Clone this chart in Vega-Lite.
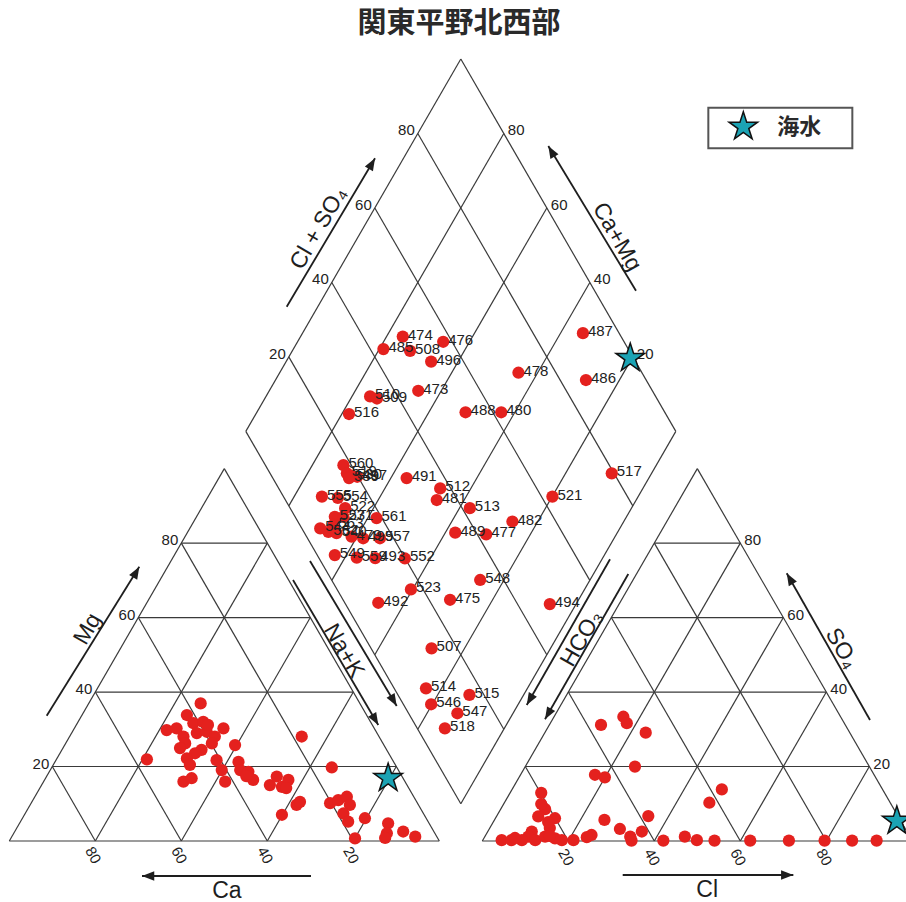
{
  "$schema": "https://vega.github.io/schema/vega-lite/v6.json",
  "width": 906,
  "height": 902,
  "autosize": {"type": "none"},
  "padding": 0,
  "background": "white",
  "config": {"view": {"stroke": null}},
  "datasets": {
    "grid": [
      {"x":0,"y":0,"x2":100,"y2":0},{"x":0,"y":0,"x2":50,"y2":86.6},{"x":100,"y":0,"x2":50,"y2":86.6},
      {"x":10,"y":17.32,"x2":90,"y2":17.32},{"x":20,"y":34.64,"x2":80,"y2":34.64},{"x":30,"y":51.96,"x2":70,"y2":51.96},{"x":40,"y":69.28,"x2":60,"y2":69.28},
      {"x":20,"y":0,"x2":60,"y2":69.28},{"x":40,"y":0,"x2":70,"y2":51.96},{"x":60,"y":0,"x2":80,"y2":34.64},{"x":80,"y":0,"x2":90,"y2":17.32},
      {"x":20,"y":0,"x2":10,"y2":17.32},{"x":40,"y":0,"x2":20,"y2":34.64},{"x":60,"y":0,"x2":30,"y2":51.96},{"x":80,"y":0,"x2":40,"y2":69.28},
      {"x":110,"y":0,"x2":210,"y2":0},{"x":110,"y":0,"x2":160,"y2":86.6},{"x":210,"y":0,"x2":160,"y2":86.6},
      {"x":120,"y":17.32,"x2":200,"y2":17.32},{"x":130,"y":34.64,"x2":190,"y2":34.64},{"x":140,"y":51.96,"x2":180,"y2":51.96},{"x":150,"y":69.28,"x2":170,"y2":69.28},
      {"x":130,"y":0,"x2":170,"y2":69.28},{"x":150,"y":0,"x2":180,"y2":51.96},{"x":170,"y":0,"x2":190,"y2":34.64},{"x":190,"y":0,"x2":200,"y2":17.32},
      {"x":130,"y":0,"x2":120,"y2":17.32},{"x":150,"y":0,"x2":130,"y2":34.64},{"x":170,"y":0,"x2":140,"y2":51.96},{"x":190,"y":0,"x2":150,"y2":69.28},
      {"x":105,"y":8.66,"x2":55,"y2":95.26},{"x":55,"y":95.26,"x2":105,"y2":181.86},{"x":105,"y":181.86,"x2":155,"y2":95.26},{"x":155,"y":95.26,"x2":105,"y2":8.66},
      {"x":115,"y":25.98,"x2":65,"y2":112.58},{"x":125,"y":43.3,"x2":75,"y2":129.9},{"x":135,"y":60.62,"x2":85,"y2":147.22},{"x":145,"y":77.94,"x2":95,"y2":164.54},
      {"x":95,"y":25.98,"x2":145,"y2":112.58},{"x":85,"y":43.3,"x2":135,"y2":129.9},{"x":75,"y":60.62,"x2":125,"y2":147.22},{"x":65,"y":77.94,"x2":115,"y2":164.54}
    ],
    "arrows": [
      {"axis":"Mg","x":8.70,"y":29.14,"x2":30.23,"y2":63.79,"dir":"ur"},
      {"axis":"Ca","x":70.16,"y":-8.14,"x2":30.86,"y2":-8.14,"dir":"l"},
      {"axis":"Na+K","x":65.98,"y":60.70,"x2":85.81,"y2":26.98,"dir":"dr"},
      {"axis":"Na+K","x":69.93,"y":65.12,"x2":90.09,"y2":31.40,"dir":"dr"},
      {"axis":"HCO3","x":139.70,"y":65.51,"x2":120.33,"y2":31.63,"dir":"dl"},
      {"axis":"HCO3","x":143.95,"y":62.09,"x2":124.58,"y2":28.30,"dir":"dl"},
      {"axis":"Cl","x":142.65,"y":-7.91,"x2":182.33,"y2":-7.91,"dir":"r"},
      {"axis":"SO4","x":200.16,"y":28.14,"x2":180.79,"y2":62.26,"dir":"ul"},
      {"axis":"Cl+SO4","x":64.51,"y":124.26,"x2":85.05,"y2":158.77,"dir":"ur"},
      {"axis":"Ca+Mg","x":145.74,"y":127.98,"x2":125.35,"y2":161.63,"dir":"ul"}
    ],
    "titles": [
      {"x":18.2,"y":49.3,"label":"Mg","rot":"up"},
      {"x":50.6,"y":-11.6,"label":"Ca","rot":"flat"},
      {"x":77.8,"y":44.2,"label":"Na+K","rot":"down"},
      {"x":133.1,"y":47.1,"label":"HCO₃","rot":"up"},
      {"x":162.3,"y":-11.4,"label":"Cl","rot":"flat"},
      {"x":193.6,"y":44.8,"label":"SO₄","rot":"down"},
      {"x":71.9,"y":142.5,"label":"Cl + SO₄","rot":"up"},
      {"x":141.3,"y":140.5,"label":"Ca+Mg","rot":"down"}
    ],
    "ticks": [
      {"x":10,"y":17.32,"label":"20","side":"left"},{"x":20,"y":34.64,"label":"40","side":"left"},{"x":30,"y":51.96,"label":"60","side":"left"},{"x":40,"y":69.28,"label":"80","side":"left"},
      {"x":65,"y":112.58,"label":"20","side":"left"},{"x":75,"y":129.9,"label":"40","side":"left"},{"x":85,"y":147.22,"label":"60","side":"left"},{"x":95,"y":164.54,"label":"80","side":"left"},
      {"x":200,"y":17.32,"label":"20","side":"right"},{"x":190,"y":34.64,"label":"40","side":"right"},{"x":180,"y":51.96,"label":"60","side":"right"},{"x":170,"y":69.28,"label":"80","side":"right"},
      {"x":145,"y":112.58,"label":"20","side":"right"},{"x":135,"y":129.9,"label":"40","side":"right"},{"x":125,"y":147.22,"label":"60","side":"right"},{"x":115,"y":164.54,"label":"80","side":"right"},
      {"x":19.5,"y":-3.3,"label":"80","side":"bottom"},{"x":39.5,"y":-3.3,"label":"60","side":"bottom"},{"x":59.5,"y":-3.3,"label":"40","side":"bottom"},{"x":79.5,"y":-3.3,"label":"20","side":"bottom"},
      {"x":129.5,"y":-3.8,"label":"20","side":"bottom"},{"x":149.5,"y":-3.8,"label":"40","side":"bottom"},{"x":169.5,"y":-3.8,"label":"60","side":"bottom"},{"x":189.5,"y":-3.8,"label":"80","side":"bottom"}
    ],
    "points": [
      {"panel":"cation","x":44.5,"y":32.0},{"panel":"cation","x":41.3,"y":29.3},{"panel":"cation","x":36.6,"y":25.8},{"panel":"cation","x":38.9,"y":26.2},{"panel":"cation","x":40.5,"y":24.3},
      {"panel":"cation","x":40.9,"y":22.7},{"panel":"cation","x":42.8,"y":27.4},{"panel":"cation","x":45.1,"y":27.7},{"panel":"cation","x":43.6,"y":25.1},{"panel":"cation","x":45.9,"y":25.4},
      {"panel":"cation","x":47.8,"y":24.3},{"panel":"cation","x":49.8,"y":26.2},{"panel":"cation","x":47.1,"y":22.7},{"panel":"cation","x":44.7,"y":21.2},{"panel":"cation","x":43.2,"y":20.4},
      {"panel":"cation","x":41.3,"y":19.2},{"panel":"cation","x":42.0,"y":17.7},{"panel":"cation","x":48.2,"y":18.8},{"panel":"cation","x":52.5,"y":22.3},{"panel":"cation","x":32.0,"y":19.0},
      {"panel":"cation","x":40.5,"y":13.8},{"panel":"cation","x":42.4,"y":14.6},{"panel":"cation","x":49.4,"y":16.5},{"panel":"cation","x":50.2,"y":13.8},{"panel":"cation","x":53.3,"y":18.4},
      {"panel":"cation","x":53.7,"y":16.5},{"panel":"cation","x":55.6,"y":16.1},{"panel":"cation","x":56.7,"y":14.2},{"panel":"cation","x":60.6,"y":13.0},{"panel":"cation","x":62.2,"y":15.0},
      {"panel":"cation","x":63.4,"y":12.6},{"panel":"cation","x":64.9,"y":14.2},{"panel":"cation","x":68.0,"y":24.3},{"panel":"cation","x":75.0,"y":17.1},{"panel":"cation","x":66.8,"y":8.4},
      {"panel":"cation","x":67.6,"y":9.1},{"panel":"cation","x":63.4,"y":6.1},{"panel":"cation","x":74.6,"y":8.8},{"panel":"cation","x":76.5,"y":9.5},{"panel":"cation","x":78.5,"y":10.3},
      {"panel":"cation","x":79.2,"y":8.4},{"panel":"cation","x":77.7,"y":6.4},{"panel":"cation","x":78.8,"y":4.5},{"panel":"cation","x":82.7,"y":5.3},{"panel":"cation","x":80.4,"y":0.6},
      {"panel":"cation","x":88.1,"y":4.1},{"panel":"cation","x":87.8,"y":1.8},{"panel":"cation","x":87.4,"y":0.7},{"panel":"cation","x":91.6,"y":2.2},{"panel":"cation","x":94.4,"y":1.0},
      {"panel":"cation","x":46.2,"y":27.0},{"panel":"cation","x":39.7,"y":21.6},{"panel":"cation","x":55.1,"y":15.1},{"panel":"cation","x":64.4,"y":12.3},
      {"panel":"anion","x":137.6,"y":27.0},{"panel":"anion","x":142.8,"y":28.9},{"panel":"anion","x":143.6,"y":27.4},{"panel":"anion","x":148.0,"y":25.2},{"panel":"anion","x":145.5,"y":17.3},
      {"panel":"anion","x":136.2,"y":15.4},{"panel":"anion","x":138.5,"y":14.8},{"panel":"anion","x":123.7,"y":11.2},{"panel":"anion","x":165.7,"y":12.0},{"panel":"anion","x":162.8,"y":8.9},
      {"panel":"anion","x":124.6,"y":7.4},{"panel":"anion","x":123.0,"y":5.7},{"panel":"anion","x":126.9,"y":5.3},{"panel":"anion","x":125.7,"y":3.0},{"panel":"anion","x":121.5,"y":2.2},
      {"panel":"anion","x":120.7,"y":1.0},{"panel":"anion","x":138.4,"y":4.9},{"panel":"anion","x":142.0,"y":2.8},{"panel":"anion","x":148.6,"y":5.8},{"panel":"anion","x":147.1,"y":2.2},
      {"panel":"anion","x":144.4,"y":1.0},{"panel":"anion","x":144.7,"y":0.1},{"panel":"anion","x":135.4,"y":1.4},{"panel":"anion","x":134.3,"y":0.9},{"panel":"anion","x":131.2,"y":0.2},
      {"panel":"anion","x":128.5,"y":0.2},{"panel":"anion","x":126.9,"y":0.6},{"panel":"anion","x":114.5,"y":0.2},{"panel":"anion","x":116.8,"y":0.2},{"panel":"anion","x":119.2,"y":0.2},
      {"panel":"anion","x":122.3,"y":0.2},{"panel":"anion","x":124.6,"y":1.0},{"panel":"anion","x":152.1,"y":0.1},{"panel":"anion","x":157.1,"y":1.0},{"panel":"anion","x":159.9,"y":0.2},
      {"panel":"anion","x":164.0,"y":0.1},{"panel":"anion","x":172.3,"y":0.1},{"panel":"anion","x":181.3,"y":0.1},{"panel":"anion","x":189.6,"y":0.1},{"panel":"anion","x":196.0,"y":0.1},
      {"panel":"anion","x":201.7,"y":0.1},{"panel":"anion","x":117.6,"y":0.7},{"panel":"anion","x":125.7,"y":1.2},{"panel":"anion","x":123.7,"y":8.6},{"panel":"anion","x":125.3,"y":4.4},
      {"panel":"diamond","x":91.5,"y":117.3,"label":"474"},{"panel":"diamond","x":87.0,"y":114.4,"label":"485"},{"panel":"diamond","x":93.2,"y":114.0,"label":"508"},
      {"panel":"diamond","x":100.9,"y":116.1,"label":"476"},{"panel":"diamond","x":98.1,"y":111.5,"label":"496"},{"panel":"diamond","x":133.4,"y":118.1,"label":"487"},
      {"panel":"diamond","x":118.4,"y":108.9,"label":"478"},{"panel":"diamond","x":134.1,"y":107.2,"label":"486"},{"panel":"diamond","x":95.1,"y":104.7,"label":"473"},
      {"panel":"diamond","x":83.9,"y":103.4,"label":"510"},{"panel":"diamond","x":85.5,"y":102.9,"label":"509"},{"panel":"diamond","x":79.0,"y":99.3,"label":"516"},
      {"panel":"diamond","x":106.1,"y":99.7,"label":"488"},{"panel":"diamond","x":114.4,"y":99.7,"label":"480"},{"panel":"diamond","x":77.7,"y":87.4,"label":"560"},
      {"panel":"diamond","x":78.5,"y":85.5,"label":"519"},{"panel":"diamond","x":79.7,"y":84.9,"label":"530"},{"panel":"diamond","x":80.9,"y":84.7,"label":"497"},
      {"panel":"diamond","x":79.0,"y":84.4,"label":"539"},{"panel":"diamond","x":92.4,"y":84.4,"label":"491"},{"panel":"diamond","x":100.2,"y":82.0,"label":"512"},
      {"panel":"diamond","x":99.4,"y":79.3,"label":"481"},{"panel":"diamond","x":72.7,"y":80.1,"label":"555"},{"panel":"diamond","x":76.4,"y":79.8,"label":"554"},
      {"panel":"diamond","x":78.1,"y":77.4,"label":"522"},{"panel":"diamond","x":85.4,"y":75.1,"label":"561"},{"panel":"diamond","x":75.7,"y":75.4,"label":"527"},
      {"panel":"diamond","x":77.7,"y":75.4,"label":"531"},{"panel":"diamond","x":72.3,"y":72.7,"label":"544"},{"panel":"diamond","x":74.2,"y":71.9,"label":"562"},
      {"panel":"diamond","x":76.1,"y":71.6,"label":"540"},{"panel":"diamond","x":75.4,"y":73.5,"label":"563"},{"panel":"diamond","x":79.6,"y":70.8,"label":"479"},
      {"panel":"diamond","x":82.3,"y":70.4,"label":"499"},{"panel":"diamond","x":86.2,"y":70.4,"label":"557"},{"panel":"diamond","x":75.7,"y":66.5,"label":"549"},
      {"panel":"diamond","x":80.8,"y":65.9,"label":"559"},{"panel":"diamond","x":85.1,"y":65.8,"label":"493"},{"panel":"diamond","x":92.0,"y":65.7,"label":"552"},
      {"panel":"diamond","x":107.1,"y":77.4,"label":"513"},{"panel":"diamond","x":117.0,"y":74.3,"label":"482"},{"panel":"diamond","x":110.9,"y":71.3,"label":"477"},
      {"panel":"diamond","x":103.7,"y":71.7,"label":"489"},{"panel":"diamond","x":126.3,"y":80.1,"label":"521"},{"panel":"diamond","x":140.1,"y":85.5,"label":"517"},
      {"panel":"diamond","x":93.4,"y":58.5,"label":"523"},{"panel":"diamond","x":85.8,"y":55.4,"label":"492"},{"panel":"diamond","x":102.5,"y":56.1,"label":"475"},
      {"panel":"diamond","x":109.5,"y":60.7,"label":"548"},{"panel":"diamond","x":125.7,"y":55.1,"label":"494"},{"panel":"diamond","x":98.2,"y":44.8,"label":"507"},
      {"panel":"diamond","x":96.9,"y":35.5,"label":"514"},{"panel":"diamond","x":98.1,"y":31.8,"label":"546"},{"panel":"diamond","x":107.0,"y":34.0,"label":"515"},
      {"panel":"diamond","x":104.2,"y":29.7,"label":"547"},{"panel":"diamond","x":101.3,"y":26.2,"label":"518"}
    ],
    "seawater": [
      {"panel":"cation","x":88.1,"y":14.6},
      {"panel":"diamond","x":144.4,"y":112.3},
      {"panel":"anion","x":206.4,"y":4.65}
    ],
    "heading": [{"x":104.6,"y":190.0,"label":"関東平野北西部"}],
    "legendbox": [{"x":162.56,"y":170.53,"x2":196.05,"y2":161.09}],
    "legendkey": [{"x":170.7,"y":166.1,"label":"海水"}]
  },
  "encoding": {
    "x": {"field": "x", "type": "quantitative", "scale": {"domain": [-2.163, 208.53], "nice": false, "zero": false}, "axis": null},
    "y": {"field": "y", "type": "quantitative", "scale": {"domain": [-14.186, 195.58], "nice": false, "zero": false}, "axis": null}
  },
  "layer": [
    {"data": {"name": "grid"}, "mark": {"type": "rule", "stroke": "#3a3a3a", "strokeWidth": 1.2}, "encoding": {"x2": {"field": "x2"}, "y2": {"field": "y2"}}},
    {"data": {"name": "arrows"}, "mark": {"type": "rule", "stroke": "#1e1e1e", "strokeWidth": 1.8}, "encoding": {"x2": {"field": "x2"}, "y2": {"field": "y2"}}},
    {"data": {"name": "arrows"}, "transform": [{"filter": "datum.dir === 'ur'"}], "mark": {"type": "point", "shape": "M0,0L0.38,1L-0.38,1Z", "filled": true, "color": "#1e1e1e", "opacity": 1, "size": 600, "angle": 30},
     "encoding": {"x": {"field": "x2", "type": "quantitative", "scale": {"domain": [-2.163, 208.53], "nice": false, "zero": false}, "axis": null}, "y": {"field": "y2", "type": "quantitative", "scale": {"domain": [-14.186, 195.58], "nice": false, "zero": false}, "axis": null}}},
    {"data": {"name": "arrows"}, "transform": [{"filter": "datum.dir === 'dr'"}], "mark": {"type": "point", "shape": "M0,0L0.38,1L-0.38,1Z", "filled": true, "color": "#1e1e1e", "opacity": 1, "size": 600, "angle": 150},
     "encoding": {"x": {"field": "x2", "type": "quantitative", "scale": {"domain": [-2.163, 208.53], "nice": false, "zero": false}, "axis": null}, "y": {"field": "y2", "type": "quantitative", "scale": {"domain": [-14.186, 195.58], "nice": false, "zero": false}, "axis": null}}},
    {"data": {"name": "arrows"}, "transform": [{"filter": "datum.dir === 'dl'"}], "mark": {"type": "point", "shape": "M0,0L0.38,1L-0.38,1Z", "filled": true, "color": "#1e1e1e", "opacity": 1, "size": 600, "angle": 210},
     "encoding": {"x": {"field": "x2", "type": "quantitative", "scale": {"domain": [-2.163, 208.53], "nice": false, "zero": false}, "axis": null}, "y": {"field": "y2", "type": "quantitative", "scale": {"domain": [-14.186, 195.58], "nice": false, "zero": false}, "axis": null}}},
    {"data": {"name": "arrows"}, "transform": [{"filter": "datum.dir === 'ul'"}], "mark": {"type": "point", "shape": "M0,0L0.38,1L-0.38,1Z", "filled": true, "color": "#1e1e1e", "opacity": 1, "size": 600, "angle": 330},
     "encoding": {"x": {"field": "x2", "type": "quantitative", "scale": {"domain": [-2.163, 208.53], "nice": false, "zero": false}, "axis": null}, "y": {"field": "y2", "type": "quantitative", "scale": {"domain": [-14.186, 195.58], "nice": false, "zero": false}, "axis": null}}},
    {"data": {"name": "arrows"}, "transform": [{"filter": "datum.dir === 'l'"}], "mark": {"type": "point", "shape": "M0,0L0.38,1L-0.38,1Z", "filled": true, "color": "#1e1e1e", "opacity": 1, "size": 600, "angle": 270},
     "encoding": {"x": {"field": "x2", "type": "quantitative", "scale": {"domain": [-2.163, 208.53], "nice": false, "zero": false}, "axis": null}, "y": {"field": "y2", "type": "quantitative", "scale": {"domain": [-14.186, 195.58], "nice": false, "zero": false}, "axis": null}}},
    {"data": {"name": "arrows"}, "transform": [{"filter": "datum.dir === 'r'"}], "mark": {"type": "point", "shape": "M0,0L0.38,1L-0.38,1Z", "filled": true, "color": "#1e1e1e", "opacity": 1, "size": 600, "angle": 90},
     "encoding": {"x": {"field": "x2", "type": "quantitative", "scale": {"domain": [-2.163, 208.53], "nice": false, "zero": false}, "axis": null}, "y": {"field": "y2", "type": "quantitative", "scale": {"domain": [-14.186, 195.58], "nice": false, "zero": false}, "axis": null}}},
    {"data": {"name": "titles"}, "transform": [{"filter": "datum.rot === 'up'"}], "mark": {"type": "text", "font": "Liberation Sans", "fontSize": 23, "color": "#1e1e1e", "align": "center", "baseline": "middle", "angle": 300}, "encoding": {"text": {"field": "label"}}},
    {"data": {"name": "titles"}, "transform": [{"filter": "datum.rot === 'flat'"}], "mark": {"type": "text", "font": "Liberation Sans", "fontSize": 23, "color": "#1e1e1e", "align": "center", "baseline": "middle"}, "encoding": {"text": {"field": "label"}}},
    {"data": {"name": "titles"}, "transform": [{"filter": "datum.rot === 'down'"}], "mark": {"type": "text", "font": "Liberation Sans", "fontSize": 23, "color": "#1e1e1e", "align": "center", "baseline": "middle", "angle": 60}, "encoding": {"text": {"field": "label"}}},
    {"data": {"name": "ticks"}, "transform": [{"filter": "datum.side === 'left'"}], "mark": {"type": "text", "font": "Liberation Sans", "fontSize": 15, "color": "#222", "align": "right", "baseline": "middle", "dx": -3, "dy": -3}, "encoding": {"text": {"field": "label"}}},
    {"data": {"name": "ticks"}, "transform": [{"filter": "datum.side === 'right'"}], "mark": {"type": "text", "font": "Liberation Sans", "fontSize": 15, "color": "#222", "align": "left", "baseline": "middle", "dx": 4, "dy": -3}, "encoding": {"text": {"field": "label"}}},
    {"data": {"name": "ticks"}, "transform": [{"filter": "datum.side === 'bottom'"}], "mark": {"type": "text", "font": "Liberation Sans", "fontSize": 15, "color": "#222", "align": "center", "baseline": "middle", "angle": 60}, "encoding": {"text": {"field": "label"}}},
    {"data": {"name": "points"}, "mark": {"type": "circle", "size": 150, "color": "#e4211e", "opacity": 1}},
    {"data": {"name": "points"}, "transform": [{"filter": "isValid(datum.label)"}], "mark": {"type": "text", "font": "Liberation Sans", "fontSize": 15, "color": "#222", "align": "left", "baseline": "middle", "dx": 5, "dy": -2}, "encoding": {"text": {"field": "label"}}},
    {"data": {"name": "seawater"}, "mark": {"type": "point", "shape": "M0,-1L0.2245,-0.309L0.9511,-0.309L0.3633,0.118L0.5878,0.809L0,0.382L-0.5878,0.809L-0.3633,0.118L-0.9511,-0.309L-0.2245,-0.309Z", "filled": true, "color": "#1ba3b4", "stroke": "#111", "strokeWidth": 1.5, "size": 900, "opacity": 1}},
    {"data": {"name": "heading"}, "mark": {"type": "text", "font": "Noto Sans CJK JP", "fontSize": 29, "fontWeight": "bold", "color": "#2a2a2a", "align": "center", "baseline": "middle"}, "encoding": {"text": {"field": "label"}}},
    {"data": {"name": "legendbox"}, "mark": {"type": "rect", "fill": "white", "stroke": "#555", "strokeWidth": 2}, "encoding": {"x2": {"field": "x2"}, "y2": {"field": "y2"}}},
    {"data": {"name": "legendkey"}, "mark": {"type": "point", "shape": "M0,-1L0.2245,-0.309L0.9511,-0.309L0.3633,0.118L0.5878,0.809L0,0.382L-0.5878,0.809L-0.3633,0.118L-0.9511,-0.309L-0.2245,-0.309Z", "filled": true, "color": "#1ba3b4", "stroke": "#111", "strokeWidth": 1.5, "size": 900, "opacity": 1}},
    {"data": {"name": "legendkey"}, "mark": {"type": "text", "font": "Noto Sans CJK JP", "fontSize": 22, "fontWeight": "bold", "color": "#2a2a2a", "align": "left", "baseline": "middle", "dx": 34}, "encoding": {"text": {"field": "label"}}}
  ]
}
